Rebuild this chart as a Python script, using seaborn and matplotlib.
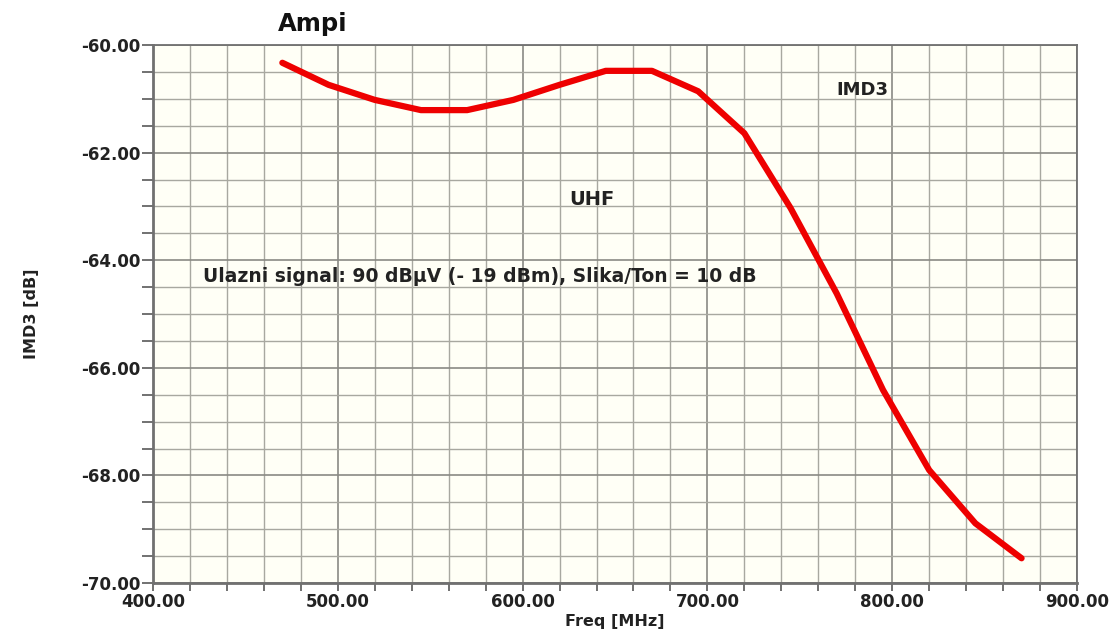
import numpy as np
import pandas as pd
import matplotlib
matplotlib.use('Agg')
import matplotlib.pyplot as plt
import seaborn as sns

# IMD3 vs frequency
freq = [470, 495, 520, 545, 570, 595, 620, 645, 670, 695, 720, 745, 770, 795, 820, 845, 870]
imd3 = [-60.33, -60.74, -61.02, -61.21, -61.21, -61.02, -60.74, -60.48, -60.48,
        -60.86, -61.64, -63.03, -64.62, -66.41, -67.90, -68.89, -69.54]
xticks = [400, 500, 600, 700, 800, 900]
yticks = [-70, -68, -66, -64, -62, -60]

df = pd.DataFrame({'Freq': freq, 'IMD3': imd3})

sns.set_theme(style='white')
plt.rcParams['font.family'] = ['DejaVu Sans']

fig = plt.figure(figsize=(11.11, 6.34), dpi=100)
ax = fig.add_axes([0.1377, 0.0804, 0.8317, 0.8486])
ax.set_facecolor('#fffff6')

ax.set_xlim(400, 900)
ax.set_ylim(-70, -60)
ax.set_xticks(xticks)
ax.set_yticks(yticks)
ax.set_xticks(np.arange(400, 901, 20), minor=True)
ax.set_yticks(np.arange(-70, -59.9, 0.5), minor=True)
ax.grid(which='minor', color='#a8a8a0', linewidth=1.0)
ax.grid(which='major', color='#8a8a84', linewidth=1.2)
ax.set_axisbelow(True)

sns.lineplot(data=df, x='Freq', y='IMD3', ax=ax, color='#ee0000', linewidth=4.5,
             solid_capstyle='round', solid_joinstyle='round', zorder=5)

ax.set_xticklabels(['%.2f' % v for v in xticks], fontweight='bold', fontsize=12, color='#222222')
ax.set_yticklabels(['%.2f' % v for v in yticks], fontweight='bold', fontsize=12, color='#222222')
ax.tick_params(which='both', direction='out', color='#666666', width=1.3)
ax.tick_params(axis='y', which='both', length=8, pad=1)
ax.tick_params(axis='x', which='both', length=6, pad=1)
ax.tick_params(which='both', left=True, bottom=True)

for s in ax.spines.values():
    s.set_color('#707070')
    s.set_linewidth(1.3)
ax.spines['left'].set_linewidth(2)
ax.spines['bottom'].set_linewidth(2)

ax.set_xlabel('Freq [MHz]', fontweight='bold', fontsize=11.5, color='#222222', labelpad=2)
ax.set_ylabel('IMD3 [dB]', fontweight='bold', fontsize=11.5, color='#222222', labelpad=30)

fig.text(0.281, 0.962, 'Ampi', fontweight='bold', fontsize=17.5, color='#111111', ha='center', va='center')
ax.text(784, -60.84, 'IMD3', fontweight='bold', fontsize=13, color='#222222', ha='center', va='center')
ax.text(637.7, -62.88, 'UHF', fontweight='bold', fontsize=14, color='#222222', ha='center', va='center')
ax.text(427, -64.31, 'Ulazni signal: 90 dB\u00b5V (- 19 dBm), Slika/Ton = 10 dB',
        fontweight='bold', fontsize=13.5, color='#222222', ha='left', va='center')

fig.savefig('out.png', dpi=100)
